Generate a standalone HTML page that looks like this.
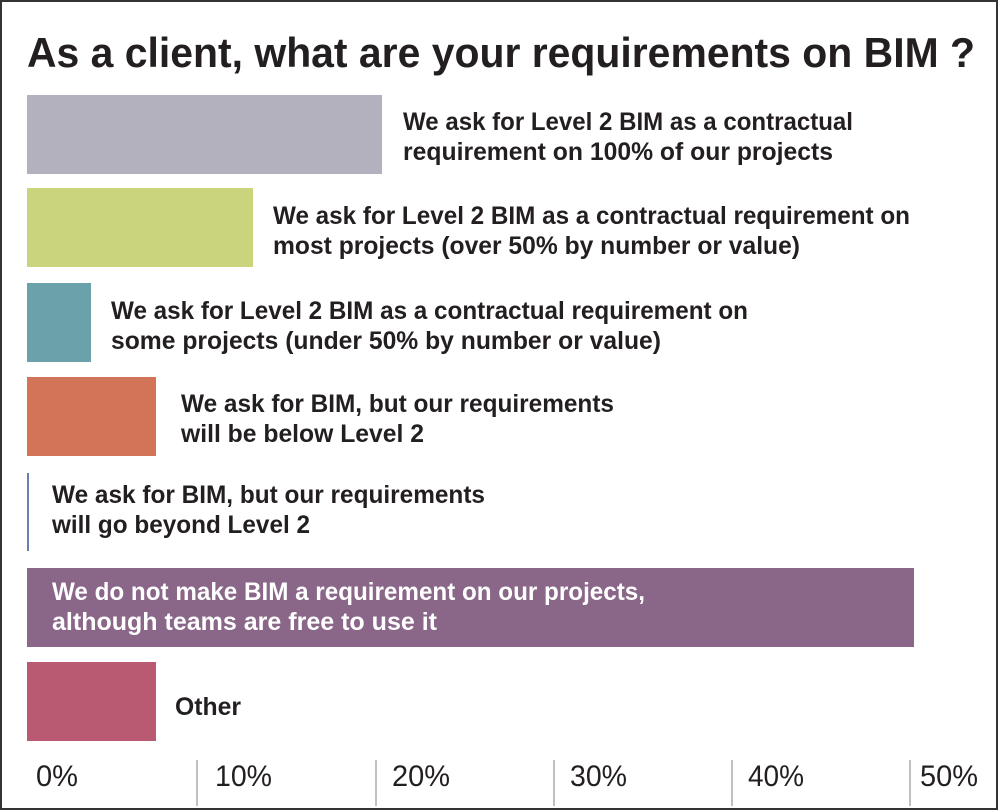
<!DOCTYPE html>
<html><head><meta charset="utf-8"><style>
html,body{margin:0;padding:0;background:#fff}
svg{display:block}
text{font-family:"Liberation Sans",sans-serif;fill:#231f20}
.l{font-size:25px;font-weight:bold}
.a{font-size:30px}
</style></head><body>
<svg width="1000" height="812" viewBox="0 0 1000 812" xmlns="http://www.w3.org/2000/svg">
<rect x="1" y="1" width="996" height="808" fill="#fff" stroke="#333" stroke-width="2"/>
<text x="27" y="67" style="font-size:42px;font-weight:bold" textLength="948" lengthAdjust="spacingAndGlyphs">As a client, what are your requirements on BIM ?</text>
<rect x="27" y="95" width="355" height="79" fill="#b3b1bd"/>
<rect x="27" y="188" width="226" height="79" fill="#c9d47d"/>
<rect x="27" y="283" width="64" height="79" fill="#6aa1aa"/>
<rect x="27" y="377" width="129" height="79" fill="#d27458"/>
<rect x="27" y="473" width="2" height="78" fill="#6a7fb0"/>
<rect x="27" y="568" width="887" height="79" fill="#8a6688"/>
<rect x="27" y="662" width="129" height="79" fill="#b95a72"/>
<g class="l">
<text class="l" x="403" y="130" textLength="450" lengthAdjust="spacingAndGlyphs">We ask for Level 2 BIM as a contractual</text>
<text class="l" x="403" y="160" textLength="430" lengthAdjust="spacingAndGlyphs">requirement on 100% of our projects</text>
<text class="l" x="273" y="224" textLength="637" lengthAdjust="spacingAndGlyphs">We ask for Level 2 BIM as a contractual requirement on</text>
<text class="l" x="273" y="254" textLength="527" lengthAdjust="spacingAndGlyphs">most projects  (over 50% by number or value)</text>
<text class="l" x="111" y="319" textLength="637" lengthAdjust="spacingAndGlyphs">We ask for Level 2 BIM as a contractual requirement on</text>
<text class="l" x="111" y="349" textLength="550" lengthAdjust="spacingAndGlyphs">some projects  (under 50% by number or value)</text>
<text class="l" x="181" y="412" textLength="433" lengthAdjust="spacingAndGlyphs">We ask for BIM, but our requirements</text>
<text class="l" x="181" y="442" textLength="243" lengthAdjust="spacingAndGlyphs">will be below Level 2</text>
<text class="l" x="52" y="503" textLength="433" lengthAdjust="spacingAndGlyphs">We ask for BIM, but our requirements</text>
<text class="l" x="52" y="533" textLength="258" lengthAdjust="spacingAndGlyphs">will go beyond Level 2</text>
<text class="l" x="52" y="600" textLength="593" lengthAdjust="spacingAndGlyphs" style="fill:#fff">We do not make BIM a requirement on our projects,</text>
<text class="l" x="52" y="630" textLength="385" lengthAdjust="spacingAndGlyphs" style="fill:#fff">although teams are free to use it</text>
<text class="l" x="175" y="715" textLength="66" lengthAdjust="spacingAndGlyphs">Other</text>
</g>
<g stroke="#aaa" stroke-width="1.5">
<line x1="197" y1="760" x2="197" y2="806"/>
<line x1="376" y1="760" x2="376" y2="806"/>
<line x1="554" y1="760" x2="554" y2="806"/>
<line x1="732" y1="760" x2="732" y2="806"/>
<line x1="910" y1="760" x2="910" y2="806"/>
</g>
<text class="a" x="36" y="786" textLength="42" lengthAdjust="spacingAndGlyphs">0%</text>
<text class="a" x="215" y="786" textLength="57" lengthAdjust="spacingAndGlyphs">10%</text>
<text class="a" x="392" y="786" textLength="58" lengthAdjust="spacingAndGlyphs">20%</text>
<text class="a" x="570" y="786" textLength="57" lengthAdjust="spacingAndGlyphs">30%</text>
<text class="a" x="748" y="786" textLength="56" lengthAdjust="spacingAndGlyphs">40%</text>
<text class="a" x="920" y="786" textLength="58" lengthAdjust="spacingAndGlyphs">50%</text>
</svg>
</body></html>
